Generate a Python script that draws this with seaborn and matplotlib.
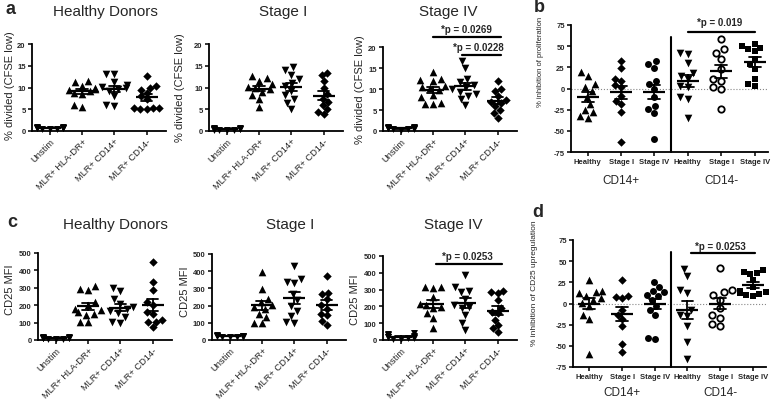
import warnings
warnings.filterwarnings('ignore')
import numpy as np
import pandas as pd
import matplotlib
matplotlib.use('Agg')
import matplotlib.pyplot as plt
import seaborn as sns

# ---------------- data ----------------
cats_a = ['Unstim', 'MLR+ HLA-DR+', 'MLR+ CD14+', 'MLR+ CD14-']
cats_b = ['CD14+ Healthy', 'CD14+ Stage I', 'CD14+ Stage IV',
          'CD14- Healthy', 'CD14- Stage I', 'CD14- Stage IV']
ticklabels_b = ['Healthy', 'Stage I', 'Stage IV', 'Healthy', 'Stage I', 'Stage IV']
titles = ['Healthy Donors', 'Stage I', 'Stage IV']

# panel a: % divided (CFSE low)
a_hd_unstim = [0.4, 0.5, 0.6, 0.7, 0.8, 0.9, 1.0, 0.6, 0.5, 0.8]
a_hd_hla = [11.5, 11.3, 10.4, 9.8, 9.6, 9.4, 9.1, 8.8, 8.5, 5.9, 5.6]
a_hd_cd14p = [13.2, 13.0, 11.2, 10.5, 10.2, 9.9, 9.6, 9.3, 8.0, 6.0, 5.8]
a_hd_cd14m = [12.7, 10.3, 10.0, 9.5, 8.8, 8.0, 7.3, 5.4, 5.3, 5.2, 5.1, 5.0]

a_s1_unstim = [0.2, 0.3, 0.4, 0.5, 0.3, 0.6, 0.4, 0.7, 0.5, 0.3]
a_s1_hla = [12.6, 12.2, 11.6, 10.7, 10.2, 9.9, 9.6, 9.0, 8.3, 7.4, 5.6]
a_s1_cd14p = [14.7, 14.1, 12.9, 12.0, 11.1, 10.3, 9.3, 8.2, 7.4, 6.5, 5.0]
a_s1_cd14m = [13.4, 12.9, 11.6, 9.8, 8.5, 7.4, 6.6, 6.0, 5.1, 4.4, 4.0]

a_s4_unstim = [0.3, 0.5, 0.6, 0.8, 0.7, 0.9, 1.0, 0.4, 0.6, 0.8, 0.5]
a_s4_hla = [14.1, 12.4, 12.1, 11.9, 10.8, 10.5, 10.2, 9.8, 8.5, 8.0, 6.6, 6.5, 6.4]
a_s4_cd14p = [16.6, 14.9, 12.4, 11.7, 10.9, 10.5, 10.0, 9.4, 8.8, 8.4, 7.6, 6.1]
a_s4_cd14m = [12.0, 10.0, 9.6, 8.3, 7.5, 7.0, 6.6, 6.0, 5.0, 4.3, 3.1]

# panel b: % inhibition of proliferation
b_p_healthy = [20, 15, 5, 2, -3, -10, -18, -25, -28, -32, -35]
b_p_stage1 = [32.6, 24, 11, 9, 3.9, 1.2, -8.6, -14.5, -18.5, -28.3, -62.8]
b_p_stage4 = [32.6, 28.7, 24.7, 9, 5.1, -0.8, -10.6, -20.4, -24.3, -29, -59.7]
b_m_healthy = [42.4, 40.4, 30.6, 18, 15, 11, 3, 1.2, -10.6, -12.6, -35.3]
b_m_stage1 = [58.9, 46.3, 42.4, 34.5, 22.8, 11, 9, 1.2, -0.8, -24.3]
b_m_stage4 = [52.2, 50.3, 48.3, 46.3, 44.4, 34.5, 28.7, 22.8, 11, 5.1, 3.1]

# panel c: CD25 MFI
c_hd_unstim = [5, 8, 10, 12, 15, 18, 10, 6, 14, 9]
c_hd_hla = [310, 291, 289, 219, 200, 181, 171, 162, 152, 143, 105, 101]
c_hd_cd14p = [298, 280, 235, 205, 190, 178, 165, 155, 135, 103, 100]
c_hd_cd14m = [451, 333, 285, 219, 200, 162, 152, 114, 105, 101, 76]

c_s1_unstim = [15, 20, 22, 25, 28, 18, 24, 26, 20]
c_s1_hla = [398, 294, 240, 221, 202, 192, 183, 154, 135, 96, 100]
c_s1_cd14p = [433, 356, 340, 330, 270, 230, 200, 170, 140, 102, 100]
c_s1_cd14m = [375, 275, 265, 240, 202, 183, 154, 144, 110, 90]

c_s4_unstim = [5, 10, 15, 20, 25, 30, 35, 40, 12, 18, 8]
c_s4_hla = [316, 314, 310, 257, 217, 208, 198, 188, 158, 128, 69]
c_s4_cd14p = [385, 316, 290, 286, 247, 208, 198, 188, 148, 99, 59]
c_s4_cd14m = [290, 283, 277, 237, 188, 168, 158, 119, 89, 69, 45]

# panel d: % inhibition of CD25 upregulation
d_p_healthy = [27.6, 14.6, 13.4, 12.6, 8.7, 6.7, 4.7, 0.8, -3.1, -13, -18.1, -60.2]
d_p_stage1 = [27.2, 8.7, 7.9, 6.7, -7.1, -13, -18.1, -26.8, -48.4, -57.5]
d_p_stage4 = [25.2, 19.7, 14.6, 13.4, 10.6, 8.7, 4.7, -2.4, -7.1, -13, -40.6, -42.5]
d_m_healthy = [40.2, 32.3, 16.5, 12.6, -7.1, -13, -15, -26.8, -45.7, -65.4]
d_m_stage1 = [42.1, 15.7, 13.4, 10.6, 4.7, -5.1, -13, -16.9, -24.8, -26.8]
d_m_stage4 = [40, 37, 36, 35, 28, 20, 15, 13, 12, 11, 10, 9]

# ---------------- style ----------------
sns.set_style('ticks')
plt.rcParams['font.family'] = ['Liberation Sans', 'DejaVu Sans']

W, H = 773, 402
fig = plt.figure(figsize=(W / 100, H / 100), dpi=100)


def add_ax(left, top, right, bottom):
    return fig.add_axes([left / W, 1 - bottom / H, (right - left) / W, (bottom - top) / H])


def fx(px):
    return px / W


def fy(py):
    return 1 - py / H


def make_df(groups, cats):
    rows = []
    for c, vals in zip(cats, groups):
        for v in vals:
            rows.append((c, v))
    return pd.DataFrame(rows, columns=['group', 'value'])


def draw_groups(ax, groups, cats, markers, sizes, open_flags):
    df = make_df(groups, cats)
    for c, m, s, op in zip(cats, markers, sizes, open_flags):
        sub = df[df['group'] == c]
        if op:
            sns.swarmplot(data=sub, x='group', y='value', order=cats, marker=m, size=s,
                          color='white', edgecolor='black', linewidth=1.3, ax=ax, zorder=3)
        else:
            sns.swarmplot(data=sub, x='group', y='value', order=cats, marker=m, size=s,
                          color='black', linewidth=0, ax=ax, zorder=3)
    sns.pointplot(data=df, x='group', y='value', order=cats, errorbar='se', capsize=0.36,
                  color='black', marker='_', markersize=16, markeredgewidth=1.6,
                  linestyle='none', err_kws={'linewidth': 1.3}, ax=ax, zorder=4)
    for art in list(ax.collections) + list(ax.lines):
        art.set_clip_on(False)


def style_ax(ax, yticks, ylim, xlim):
    sns.despine(ax=ax)
    for s in ['left', 'bottom']:
        ax.spines[s].set_linewidth(1.3)
        ax.spines[s].set_color('black')
    ax.set_ylim(*ylim)
    ax.set_xlim(*xlim)
    ax.set_yticks(yticks)
    ax.set_yticklabels([str(t) for t in yticks], fontsize=5.5, fontweight='bold')
    ax.tick_params(axis='both', length=3, width=1.1, pad=1.5, color='black')
    ax.set_xlabel('')
    ax.set_ylabel('')


def sig(ax, x0, x1, yl, xt, yt, text):
    ax.plot([x0, x1], [yl, yl], color='black', lw=1.6, clip_on=False)
    ax.text(xt, yt, text, ha='center', va='center', fontsize=7, fontweight='bold')


mk_a = ['v', '^', 'v', 'D']
sz_a = [5, 5.5, 5.5, 4.3]
op_a = [False, False, False, False]
mk_b = ['^', 'D', 'o', 'v', 'o', 's']
sz_b = [5.5, 4.3, 5, 5.5, 4.6, 4.6]
op_b = [False, False, False, False, True, False]

xlim_a = (-0.55, 3.6)

# ---------------- panel a ----------------
a_groups = [
    [a_hd_unstim, a_hd_hla, a_hd_cd14p, a_hd_cd14m],
    [a_s1_unstim, a_s1_hla, a_s1_cd14p, a_s1_cd14m],
    [a_s4_unstim, a_s4_hla, a_s4_cd14p, a_s4_cd14m],
]
a_boxes = [(32, 45, 166, 132), (209, 45, 343, 132), (383, 48, 517, 132)]
a_title_pos = [(105, 12), (283, 12), (448, 12)]
a_ylab_pos = [(10, 86), (180, 88), (360, 90)]
axes_a = []
for grp, box, tp, yp, t in zip(a_groups, a_boxes, a_title_pos, a_ylab_pos, titles):
    ax = add_ax(*box)
    draw_groups(ax, grp, cats_a, mk_a, sz_a, op_a)
    style_ax(ax, [0, 5, 10, 15, 20], (0, 20), xlim_a)
    ax.set_xticks(range(4))
    ax.set_xticklabels(cats_a, rotation=45, ha='right', rotation_mode='anchor', fontsize=6.7)
    ax.tick_params(axis='x', pad=1)
    fig.text(fx(tp[0]), fy(tp[1]), t, ha='center', va='center', fontsize=11)
    fig.text(fx(yp[0]), fy(yp[1]), '% divided (CFSE low)', rotation=90,
             ha='center', va='center', fontsize=8)
    axes_a.append(ax)

sig(axes_a[2], 1.0, 3.1, 22.4, 2.04, 24.3, '*p = 0.0269')
sig(axes_a[2], 1.9, 3.1, 18.1, 2.4, 19.9, '*p = 0.0228')

# ---------------- panel c ----------------
c_groups = [
    [c_hd_unstim, c_hd_hla, c_hd_cd14p, c_hd_cd14m],
    [c_s1_unstim, c_s1_hla, c_s1_cd14p, c_s1_cd14m],
    [c_s4_unstim, c_s4_hla, c_s4_cd14p, c_s4_cd14m],
]
c_boxes = [(38, 254, 172, 341), (212, 255, 346, 341), (383, 257, 517, 341)]
c_title_pos = [(115, 225), (290, 225), (453, 225)]
c_ylab_pos = [(10, 290), (185, 292), (355, 300)]
axes_c = []
for grp, box, tp, yp, t in zip(c_groups, c_boxes, c_title_pos, c_ylab_pos, titles):
    ax = add_ax(*box)
    draw_groups(ax, grp, cats_a, mk_a, sz_a, op_a)
    style_ax(ax, [0, 100, 200, 300, 400, 500], (0, 500), xlim_a)
    ax.set_xticks(range(4))
    ax.set_xticklabels(cats_a, rotation=45, ha='right', rotation_mode='anchor', fontsize=6.7)
    ax.tick_params(axis='x', pad=1)
    fig.text(fx(tp[0]), fy(tp[1]), t, ha='center', va='center', fontsize=11)
    fig.text(fx(yp[0]), fy(yp[1]), 'CD25 MFI', rotation=90,
             ha='center', va='center', fontsize=8)
    axes_c.append(ax)

sig(axes_c[2], 1.1, 3.15, 453, 2.07, 500, '*p = 0.0253')


# ---------------- panels b and d ----------------
def inhibition_panel(box, groups, ylab, ylab_pos, ylab_size, grp_y, sigargs):
    ax = add_ax(*box)
    ax.axhline(0, color='#888888', ls=':', lw=0.8, zorder=1)
    draw_groups(ax, groups, cats_b, mk_b, sz_b, op_b)
    style_ax(ax, [-75, -50, -25, 0, 25, 50, 75], (-75, 75), (-0.5, 5.4))
    ax.set_xticks(range(6))
    ax.set_xticklabels(ticklabels_b, fontsize=5.5, fontweight='bold')
    ax.plot([2.5, 2.5], [-75, 61], color='black', lw=1.5, clip_on=False)
    fig.text(fx(ylab_pos[0]), fy(ylab_pos[1]), ylab, rotation=90,
             ha='center', va='center', fontsize=ylab_size)
    unit = (box[2] - box[0]) / 5.9
    fig.text(fx(box[0] + 1.5 * unit), fy(grp_y), 'CD14+',
             ha='center', va='center', fontsize=8.5)
    fig.text(fx(box[0] + 4.5 * unit), fy(grp_y), 'CD14-',
             ha='center', va='center', fontsize=8.5)
    sig(ax, *sigargs)
    return ax


ax_b = inhibition_panel((571, 26, 768, 153),
                        [b_p_healthy, b_p_stage1, b_p_stage4, b_m_healthy, b_m_stage1, b_m_stage4],
                        '% inhibition of proliferation', (540, 62), 5.5, 181,
                        (3.0, 5.0, 67, 3.95, 79, '*p = 0.019'))
ax_d = inhibition_panel((573, 241, 766, 368),
                        [d_p_healthy, d_p_stage1, d_p_stage4, d_m_healthy, d_m_stage1, d_m_stage4],
                        '% inhibition of CD25 upregulation', (535, 283), 6, 393,
                        (3.1, 5.05, 59.6, 4.0, 68, '*p = 0.0253'))

# panel letters
for letter, (x, y) in zip('abcd', [(10, 10), (539, 8), (12, 223), (538, 213)]):
    fig.text(fx(x), fy(y), letter, ha='center', va='center', fontsize=13, fontweight='bold')

fig.savefig('out.png', dpi=100)
